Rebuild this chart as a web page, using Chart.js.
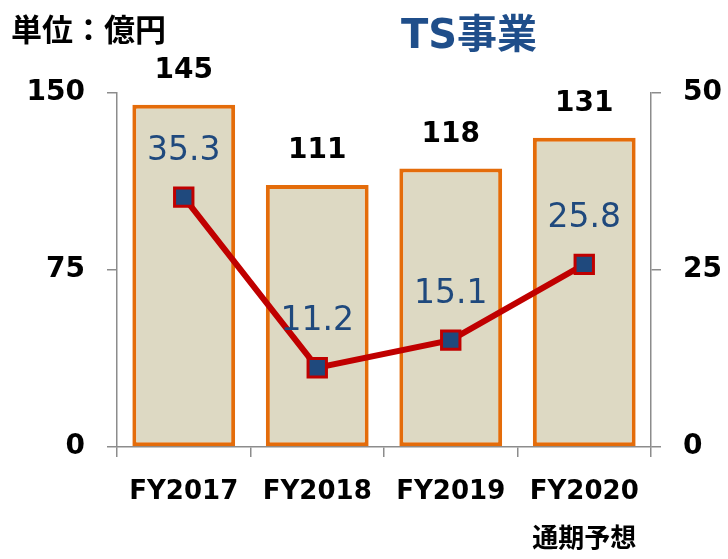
<!DOCTYPE html>
<html>
<head>
<meta charset="utf-8">
<script src="https://cdn.jsdelivr.net/npm/chart.js@4"></script>
<style>
  html, body { margin: 0; padding: 0; background: #fff; }
  #wrap { position: relative; width: 728px; height: 559px; }
  #unit { position: absolute; left: 11px; top: 5px; font: bold 31px "Noto Sans CJK JP", sans-serif; color: #000; }
  #title { position: absolute; left: 0; width: 728px; top: 2px; text-align: center; padding-left: 210px; box-sizing: border-box;
           font: bold 40px "DejaVu Sans", "Noto Sans CJK JP", sans-serif; color: #1F4E8A; }
</style>
</head>
<body>
<div id="wrap">
  <canvas id="chart" width="728" height="559"></canvas>
  <div id="unit">単位：億円</div>
  <div id="title">TS事業</div>
</div>
<script>
const categories = [['FY2017'], ['FY2018'], ['FY2019'], ['FY2020', '通期予想']];
const sales = [145, 111, 118, 131];
const profit = [35.3, 11.2, 15.1, 25.8];
const leftTicks = [0, 75, 150];
const rightTicks = [0, 25, 50];

const labelFont = '"DejaVu Sans", "Noto Sans CJK JP", sans-serif';

const valueLabels = {
  id: 'valueLabels',
  afterDatasetsDraw(chart) {
    const ctx = chart.ctx;
    ctx.save();
    ctx.textAlign = 'center';
    ctx.textBaseline = 'middle';
    chart.getDatasetMeta(0).data.forEach((bar, i) => {
      ctx.font = 'bold 28px ' + labelFont;
      ctx.fillStyle = '#000';
      ctx.fillText(String(sales[i]), bar.x, bar.y - 34);
    });
    chart.getDatasetMeta(1).data.forEach((pt, i) => {
      ctx.font = '33px ' + labelFont;
      ctx.fillStyle = '#1F497D';
      ctx.fillText(profit[i].toFixed(1), pt.x, pt.y - 46);
    });
    ctx.restore();
  }
};

const axisColor = '#8c8c8c';

new Chart(document.getElementById('chart'), {
  data: {
    labels: categories,
    datasets: [{
      type: 'bar',
      data: sales,
      yAxisID: 'y',
      backgroundColor: '#DDD9C3',
      borderColor: '#E46C0A',
      borderWidth: 4,
      borderSkipped: false,
      barPercentage: 0.77,
      categoryPercentage: 1,
      order: 2
    }, {
      type: 'line',
      data: profit,
      yAxisID: 'y1',
      borderColor: '#C00000',
      borderWidth: 6,
      pointStyle: 'rect',
      pointRadius: 13,
      pointBorderWidth: 3,
      pointBackgroundColor: '#1F497D',
      pointBorderColor: '#C00000',
      tension: 0,
      order: 1
    }]
  },
  options: {
    responsive: false,
    animation: false,
    layout: { padding: { top: 93, left: 0, right: 0, bottom: 0 } },
    plugins: { legend: { display: false }, tooltip: { enabled: false } },
    scales: {
      x: {
        offset: true,
        grid: { offset: true, drawOnChartArea: false, tickLength: 10, color: axisColor, lineWidth: 1.5 },
        border: { color: axisColor, width: 1.5 },
        ticks: { color: '#000', font: { family: labelFont, size: 26, weight: 'bold', lineHeight: 1.85 }, padding: 11, maxRotation: 0 },
        afterFit(s) { s.height = 112; }
      },
      y: {
        position: 'left',
        min: leftTicks[0],
        max: leftTicks[leftTicks.length - 1],
        afterBuildTicks(s) { s.ticks = leftTicks.map(v => ({ value: v })); },
        grid: { drawOnChartArea: false, tickLength: 10, color: axisColor, lineWidth: 1.5 },
        border: { color: axisColor, width: 1.5 },
        ticks: { color: '#000', font: { family: labelFont, size: 28, weight: 'bold' }, padding: 22 },
        afterFit(s) { s.width = 117; }
      },
      y1: {
        position: 'right',
        min: rightTicks[0],
        max: rightTicks[rightTicks.length - 1],
        afterBuildTicks(s) { s.ticks = rightTicks.map(v => ({ value: v })); },
        grid: { drawOnChartArea: false, tickLength: 10, color: axisColor, lineWidth: 1.5 },
        border: { color: axisColor, width: 1.5 },
        ticks: { color: '#000', font: { family: labelFont, size: 28, weight: 'bold' }, padding: 22 },
        afterFit(s) { s.width = 77; }
      }
    }
  },
  plugins: [valueLabels]
});
</script>
</body>
</html>
